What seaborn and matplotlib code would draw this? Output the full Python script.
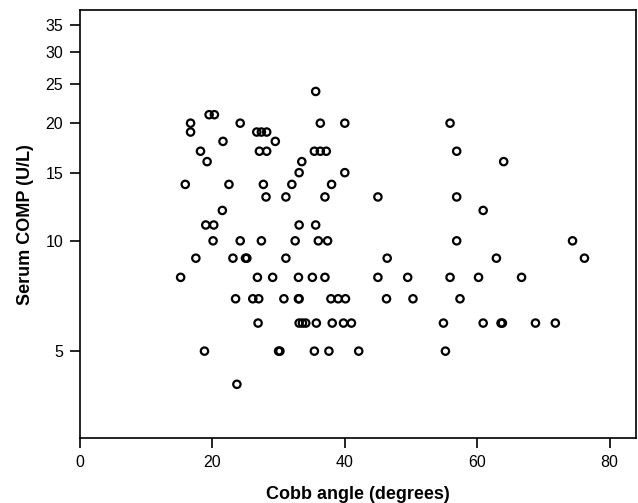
# scatter of serum COMP against Cobb angle

import numpy as np
import pandas as pd
import matplotlib
matplotlib.use("Agg")
import matplotlib.pyplot as plt
import seaborn as sns

# values, grouped by COMP level
cobb_angle = [35.6,
              19.5, 20.3,
              16.7, 24.2, 36.3, 40.0, 55.9,
              16.7, 26.7, 27.4, 28.2,
              21.6, 29.5,
              18.2, 27.1, 28.2, 35.4, 36.3, 37.2, 56.9,
              19.2, 33.5, 64.0,
              33.1, 40.0,
              15.9, 22.5, 27.7, 32.0, 38.0,
              28.1, 31.1, 37.0, 45.0, 56.9,
              21.5, 60.9,
              19.0, 20.2, 33.1, 35.6,
              20.1, 24.2, 27.4, 32.5, 36.0, 37.4, 56.9, 74.4,
              17.5, 23.1, 25.0, 25.2, 31.1, 46.4, 62.9, 76.2,
              15.2, 26.8, 29.1, 33.0, 35.1, 37.0, 45.0, 49.5, 55.9, 60.2, 66.7,
              23.5, 26.1, 27.0, 30.8, 33.0, 33.1, 37.9, 39.0, 40.1, 46.3, 50.3, 57.4,
              26.9, 33.1, 33.6, 34.1, 35.7, 38.1, 39.8, 41.0, 54.9, 60.9, 63.6, 63.8, 68.8, 71.8,
              18.8, 30.0, 30.2, 35.4, 37.6, 42.1, 55.2,
              23.7]
serum_comp = [24,
              21, 21,
              20, 20, 20, 20, 20,
              19, 19, 19, 19,
              18, 18,
              17, 17, 17, 17, 17, 17, 17,
              16, 16, 16,
              15, 15,
              14, 14, 14, 14, 14,
              13, 13, 13, 13, 13,
              12, 12,
              11, 11, 11, 11,
              10, 10, 10, 10, 10, 10, 10, 10,
              9, 9, 9, 9, 9, 9, 9, 9,
              8, 8, 8, 8, 8, 8, 8, 8, 8, 8, 8,
              7, 7, 7, 7, 7, 7, 7, 7, 7, 7, 7, 7,
              6, 6, 6, 6, 6, 6, 6, 6, 6, 6, 6, 6, 6, 6,
              5, 5, 5, 5, 5, 5, 5,
              4]
y_ticks = [5, 10, 15, 20, 25, 30, 35]
x_ticks = [0, 20, 40, 60, 80]

df = pd.DataFrame({"Cobb": cobb_angle, "COMP": serum_comp})

sns.set_style("ticks")
plt.rcParams["font.family"] = ["Liberation Sans", "DejaVu Sans"]

fig = plt.figure(figsize=(6.38, 5.03), dpi=100)
ax = fig.add_axes([0.1254, 0.129, 0.8716, 0.851])

sns.scatterplot(x="Cobb", y="COMP", data=df, ax=ax, marker="o", s=28,
                facecolor="none", edgecolor="black", linewidth=1.6)

# y axis is log(y + 1)
ax.set_yscale("function", functions=(lambda v: np.log10(np.clip(v, -0.99, None) + 1),
                                     lambda t: 10 ** t - 1))
ax.set_ylim(2.72, 38.1)
ax.set_xlim(0, 84)
ax.set_yticks(y_ticks)
ax.set_yticklabels([str(t) for t in y_ticks])
ax.yaxis.set_minor_locator(matplotlib.ticker.NullLocator())
ax.set_xticks(x_ticks)

for sp in ax.spines.values():
    sp.set_visible(True)
    sp.set_color("black")
    sp.set_linewidth(1.2)
ax.tick_params(axis="both", direction="out", length=7, width=1.2, colors="black",
               labelsize=11.5, pad=5)

ax.set_xlabel("Cobb angle (degrees)", fontsize=13, fontweight="bold", labelpad=12,
              color="black")
ax.set_ylabel("Serum COMP (U/L)", fontsize=13, fontweight="bold", labelpad=8,
              color="black")

fig.savefig("out.png", dpi=100)
